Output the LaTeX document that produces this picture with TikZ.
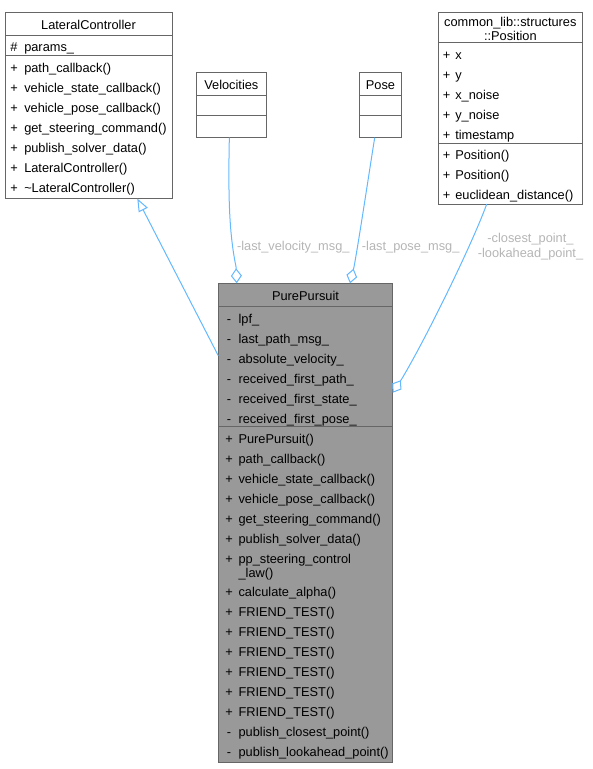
\documentclass[tikz,border=0pt]{standalone}
\usepackage{fontspec}
\setmainfont{Liberation Sans}
\usetikzlibrary{arrows.meta,calc}
\definecolor{framec}{HTML}{666666}
\definecolor{ppfill}{HTML}{999999}
\definecolor{edgec}{HTML}{63B8FF}
\definecolor{labc}{HTML}{B5B5B5}
% #1 prefix, #2 symbol x, #3 text x, #4 first y, #5 list sym/text
\newcommand\classrows[5]{%
  \foreach [count=\i] \sy/\tx in {#5}{
    \node[symtext] (#1s\i) at (#2,#4+20*\i-20) {\sy};
    \node[rowtext] (#1t\i) at (#3,#4+20*\i-20) {\tx};
  }}
\begin{document}
\begin{tikzpicture}[x=0.75pt,y=-0.75pt,
  every node/.style={font=\fontsize{9.6pt}{11pt}\selectfont},
  frame/.style={draw=framec,line width=0.75pt,fill=white,inner sep=0pt,outer sep=0pt,anchor=north west},
  sepline/.style={draw=framec,line width=0.75pt},
  rowtext/.style={anchor=west,inner sep=0pt,text height=7.3pt,text depth=2.1pt,yshift=-1.8pt},
  symtext/.style={anchor=center,inner sep=0pt,text height=7.3pt,text depth=2.1pt,yshift=-1.8pt},
  titletext/.style={anchor=center,inner sep=0pt,text height=7.3pt,text depth=2.1pt,yshift=-1.8pt},
  lab/.style={text=labc,inner sep=0pt,text height=7.3pt,text depth=2.1pt,yshift=-1.2pt},
  inh/.style={draw=edgec,line width=0.75pt,-{Triangle[open,length=9.75pt,width=7.5pt,fill=white]}},
  agg/.style={draw=edgec,line width=0.75pt,-{Diamond[open,length=11.25pt,width=8.25pt,fill=white]}}
]
\useasboundingbox (0,0) rectangle (593,769);

% ---------- LateralController ----------
\node[frame,minimum width=167*0.75pt,minimum height=185.8*0.75pt] (lc) at (5,12.7) {};
\draw[sepline] (5,35) -- (172,35);
\draw[sepline] (5,55.5) -- (172,55.5);
\node[titletext] (lctitle) at (88.5,24) {LateralController};
\classrows{lca}{14}{24}{45.5}{\#/params\_}
\classrows{lcm}{14}{24}{67}{+/path\_callback(),+/vehicle\_state\_callback(),+/vehicle\_pose\_callback(),+/get\_steering\_command(),+/publish\_solver\_data(),+/LateralController(),+/\textasciitilde LateralController()}

% ---------- Velocities ----------
\node[frame,minimum width=69.3*0.75pt,minimum height=65*0.75pt] (vel) at (196.7,72.7) {};
\draw[sepline] (196.7,95) -- (266,95);
\draw[sepline] (196.7,115) -- (266,115);
\node[titletext] (veltitle) at (231.35,84) {Velocities};

% ---------- Pose ----------
\node[frame,minimum width=42.4*0.75pt,minimum height=65*0.75pt] (pose) at (359.3,72.7) {};
\draw[sepline] (359.3,95) -- (401.7,95);
\draw[sepline] (359.3,115) -- (401.7,115);
\node[titletext] (posetitle) at (380.5,84) {Pose};

% ---------- Position ----------
\node[frame,minimum width=144.7*0.75pt,minimum height=191.3*0.75pt] (pos) at (438,12.7) {};
\draw[sepline] (438,42.5) -- (582.7,42.5);
\draw[sepline] (438,143) -- (582.7,143);
\node[align=center,inner sep=0pt,font=\fontsize{9.6pt}{10pt}\selectfont,yshift=-1.2pt] (postitle) at (510.35,27.3) {common\_lib::structures\\::Position};
\classrows{posa}{446.5}{455}{54}{+/x,+/y,+/x\_noise,+/y\_noise,+/timestamp}
\classrows{posm}{446.5}{455}{154}{+/Position(),+/Position(),+/euclidean\_distance()}

% ---------- PurePursuit ----------
\node[frame,fill=ppfill,minimum width=174.4*0.75pt,minimum height=478.7*0.75pt] (pp) at (218.3,283.3) {};
\draw[sepline] (218.3,306.5) -- (392.7,306.5);
\draw[sepline] (218.3,426) -- (392.7,426);
\node[titletext] (pptitle) at (305.5,295) {PurePursuit};
\classrows{ppa}{229}{238.3}{318}{-/lpf\_,-/last\_path\_msg\_,-/absolute\_velocity\_,-/received\_first\_path\_,-/received\_first\_state\_,-/received\_first\_pose\_}
\classrows{ppm}{229}{238.3}{437.3}{+/PurePursuit(),+/path\_callback(),+/vehicle\_state\_callback(),+/vehicle\_pose\_callback(),+/get\_steering\_command(),+/publish\_solver\_data()}
\node[symtext] (pplaws) at (229,557.3) {+};
\node[rowtext] (pplawa) at (238.3,557.3) {pp\_steering\_control};
\node[rowtext] (pplawb) at (238.3,571.3) {\_law()};
\classrows{ppn}{229}{238.3}{591}{+/calculate\_alpha(),+/FRIEND\_TEST(),+/FRIEND\_TEST(),+/FRIEND\_TEST(),+/FRIEND\_TEST(),+/FRIEND\_TEST(),+/FRIEND\_TEST(),-/publish\_closest\_point(),-/publish\_lookahead\_point()}

% ---------- connector end points ----------
\coordinate (inhS) at ($(pp.north west)+(0,72.4)$);
\coordinate (inhE) at ($(lc.south west)+(132.3,0)$);
\coordinate (velS) at ($(vel.south)+(-2,0)$);
\coordinate (velE) at ($(pp.north west)+(18.4,0)$);
\coordinate (poseS) at ($(pose.south)+(-5.8,0)$);
\coordinate (poseE) at ($(pp.north west)+(131.7,0)$);
\coordinate (posS) at ($(pos.south)+(-23.6,0)$);
\coordinate (posE) at ($(pp.north east)+(0,109.4)$);

% ---------- connectors ----------
\draw[inh] (inhS) -- (inhE);
\draw[agg] (velS) .. controls (228,200) and (229.5,235) .. (236,266.7) -- (velE);
\draw[agg] (poseS) .. controls (369.5,170) and (359,240) .. (354,267) -- (poseE);
\draw[agg] (posS) .. controls (472.3,244) and (425.7,339) .. (401.7,379) -- (posE);

% ---------- labels ----------
\node[lab] (lvel) at (293.3,245) {-last\_velocity\_msg\_};
\node[lab,anchor=west] (lpose) at (361.7,245) {-last\_pose\_msg\_};
\node[text=labc,inner sep=0pt,align=center,yshift=-1.2pt] (lpos) at (530.5,245) {-closest\_point\_\\-lookahead\_point\_};
\end{tikzpicture}
\end{document}
